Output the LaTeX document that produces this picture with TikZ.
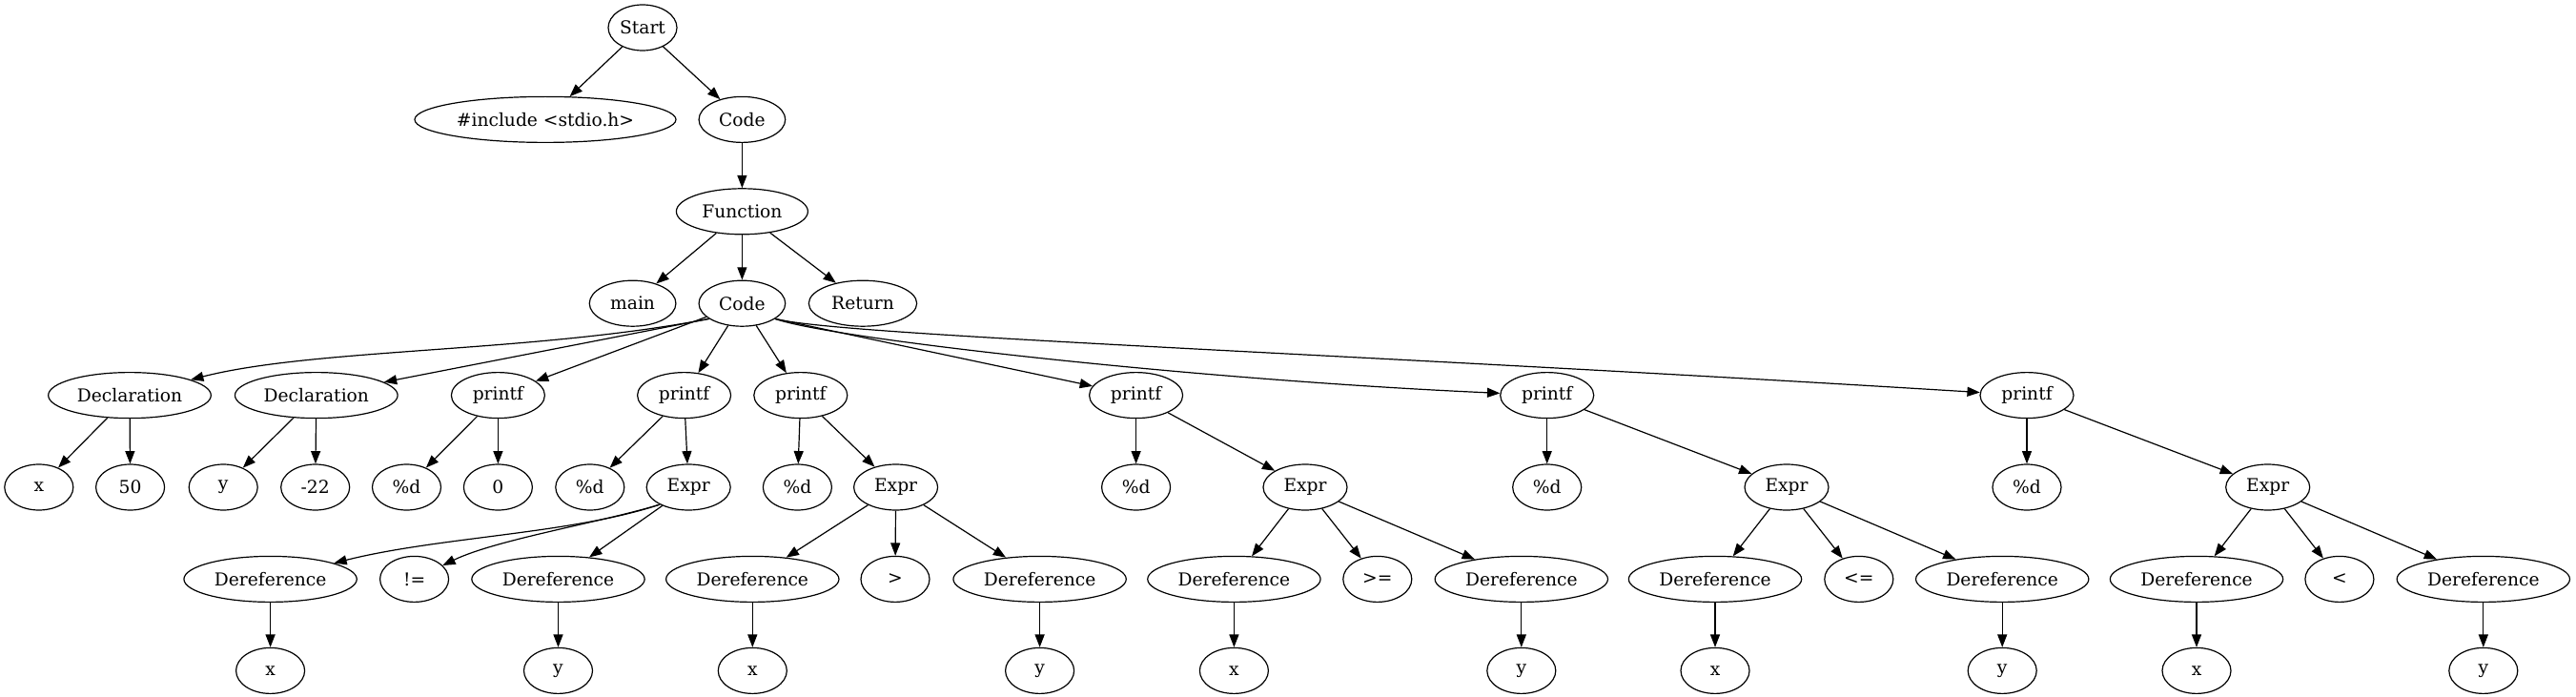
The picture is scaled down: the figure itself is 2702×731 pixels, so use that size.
\documentclass[tikz,border=0pt]{standalone}
\usepackage{fontspec}
\setmainfont{DejaVu Serif}
\usetikzlibrary{arrows.meta,shapes.geometric}
\tikzset{%
	tnode/.style  = {draw, ellipse, line width=0.9pt, minimum width=54pt, minimum height=36pt, inner sep=0pt, text centered, font=\fontsize{14}{16}\selectfont},
	codebox/.style = {tnode, minimum width=68pt},
	declbox/.style = {tnode, minimum width=128pt},
	callbox/.style = {tnode, minimum width=73.5pt},
	exprbox/.style = {tnode, minimum width=66pt},
	derefbox/.style = {tnode, minimum width=136pt},
	arrow/.style  = {line width=0.9pt, -{Triangle[length=10pt,width=7.5pt]}},
}

\begin{document}
\begin{tikzpicture}[x=0.75pt,y=-0.75pt]
		\useasboundingbox (0,0) rectangle (2702,731);
		% top of the tree
		\node[tnode] (start) at (674,29) {Start};
		\node[tnode, minimum width=205.5pt] (inc) at (572,125.4) {\#include <stdio.h>};
		\node[codebox] (code) at (778.4,125.4) {Code};
		\node[tnode, minimum width=103.5pt] (func) at (778.4,221.8) {Function};
		\node[codebox] (main) at (663.6,318.2) {main};
		\node[codebox] (body) at (778.4,318.2) {Code};
		\node[tnode, minimum width=85pt] (ret) at (905,318.2) {Return};
		
		% statements
		\node[declbox] (decA) at (136,414.6) {Declaration};
		\node[declbox] (decB) at (331.8,414.6) {Declaration};
		\node[callbox] (pfA) at (522.4,414.6) {printf};
		\node[callbox] (pfB) at (717.6,414.6) {printf};
		\node[callbox] (pfC) at (839.8,414.6) {printf};
		\node[callbox] (pfD) at (1191.6,414.6) {printf};
		\node[callbox] (pfE) at (1622.7,414.6) {printf};
		\node[callbox] (pfF) at (2126,414.6) {printf};
		
		% arguments
		\node[tnode] (xA) at (40.8,511) {x};
		\node[tnode] (vA) at (136.6,511) {50};
		\node[tnode] (yA) at (234.2,511) {y};
		\node[tnode] (vB) at (330.7,511) {-22};
		\node[tnode] (fmtA) at (426.5,511) {\%d};
		\node[tnode] (vC) at (522.4,511) {0};
		\node[tnode] (fmtB) at (618.8,511) {\%d};
		\node[exprbox] (exB) at (722.2,511) {Expr};
		\node[tnode] (fmtC) at (836.4,511) {\%d};
		\node[exprbox] (exC) at (939.6,511) {Expr};
		\node[tnode] (fmtD) at (1191.6,511) {\%d};
		\node[exprbox] (exD) at (1369,511) {Expr};
		\node[tnode] (fmtE) at (1622.7,511) {\%d};
		\node[exprbox] (exE) at (1874,511) {Expr};
		\node[tnode] (fmtF) at (2126,511) {\%d};
		\node[exprbox] (exF) at (2378.7,511) {Expr};
		
		% comparisons
		\node[derefbox] (dBx) at (283.6,607.4) {Dereference};
		\node[tnode] (opB) at (434.6,607.4) {!=};
		\node[derefbox] (dBy) at (585.5,607.4) {Dereference};
		\node[derefbox] (dCx) at (789.3,607.4) {Dereference};
		\node[tnode] (opC) at (939,607.4) {>};
		\node[derefbox] (dCy) at (1090.6,607.4) {Dereference};
		\node[derefbox] (dDx) at (1294.4,607.4) {Dereference};
		\node[tnode] (opD) at (1444.8,607.4) {>=};
		\node[derefbox] (dDy) at (1595.8,607.4) {Dereference};
		\node[derefbox] (dEx) at (1799,607.4) {Dereference};
		\node[tnode] (opE) at (1949.8,607.4) {<=};
		\node[derefbox] (dEy) at (2100.2,607.4) {Dereference};
		\node[derefbox] (dFx) at (2304,607.4) {Dereference};
		\node[tnode] (opF) at (2453.9,607.4) {<};
		\node[derefbox] (dFy) at (2604.8,607.4) {Dereference};
		
		% variables
		\foreach \k in {B,C,D,E,F} {
			\node[tnode] (vx\k) at ([yshift=-72pt]d\k x) {x};
			\node[tnode] (vy\k) at ([yshift=-72pt]d\k y) {y};
			\draw[arrow] (d\k x) -- (vx\k);
			\draw[arrow] (d\k y) -- (vy\k);
		}
		
		% edges
		\draw[arrow] (start) -- (inc);
		\draw[arrow] (start) -- (code);
		\draw[arrow] (code) -- (func);
		\draw[arrow] (func) -- (main);
		\draw[arrow] (func) -- (body);
		\draw[arrow] (func) -- (ret);
		
		\draw[arrow] (body.205) .. controls (560,370) and (330,365) .. (decA);
		\draw[arrow] (body.205) -- (decB);
		\foreach \k in {A,B,C} \draw[arrow] (body) -- (pf\k);
		\draw[arrow] (body.-25) -- (pfD);
		\draw[arrow] (body.-25) .. controls (870,355) and (1250,398) .. (pfE);
		\draw[arrow] (body.-25) .. controls (880,352) and (1400,370) .. (pfF);
		
		\draw[arrow] (decA) -- (xA);
		\draw[arrow] (decA) -- (vA);
		\draw[arrow] (decB) -- (yA);
		\draw[arrow] (decB) -- (vB);
		\draw[arrow] (pfA) -- (fmtA);
		\draw[arrow] (pfA) -- (vC);
		\foreach \k in {B,C,D,E,F} {
			\draw[arrow] (pf\k) -- (fmt\k);
			\draw[arrow] (pf\k) -- (ex\k);
		}
		
		\draw[arrow] (exB.211) .. controls (600,560) and (460,563) .. (dBx);
		\draw[arrow] (exB.211) .. controls (630,548) and (520,566) .. (opB);
		\draw[arrow] (exB) -- (dBy);
		\foreach \k in {C,D,E,F} {
			\draw[arrow] (ex\k) -- (d\k x);
			\draw[arrow] (ex\k) -- (op\k);
			\draw[arrow] (ex\k) -- (d\k y);
		}
		
\end{tikzpicture}
\end{document}
